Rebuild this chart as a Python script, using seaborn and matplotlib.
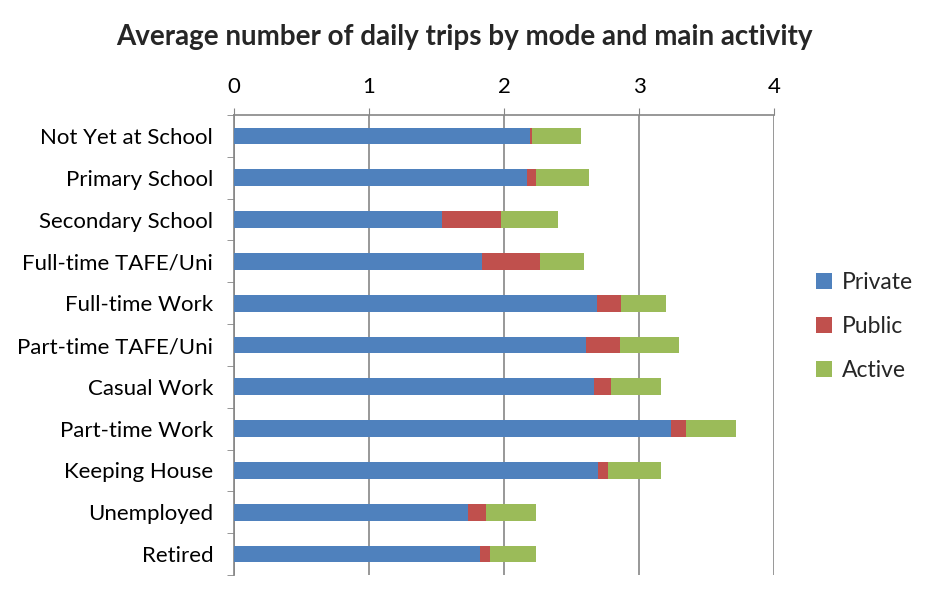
import numpy as np
import pandas as pd
import matplotlib.pyplot as plt
import seaborn as sns

# Average daily trips by main activity, split by mode
activities = ['Not Yet at School', 'Primary School', 'Secondary School', 'Full-time TAFE/Uni',
              'Full-time Work', 'Part-time TAFE/Uni', 'Casual Work', 'Part-time Work',
              'Keeping House', 'Unemployed', 'Retired']
private = [2.19, 2.17, 1.54, 1.84, 2.69, 2.61, 2.67, 3.24, 2.70, 1.73, 1.82]
public = [0.02, 0.07, 0.44, 0.43, 0.18, 0.25, 0.12, 0.11, 0.07, 0.14, 0.08]
active = [0.36, 0.39, 0.42, 0.32, 0.33, 0.44, 0.37, 0.37, 0.39, 0.37, 0.34]
x_ticks = [0, 1, 2, 3, 4]

colors = {'Private': '#4f81bd', 'Public': '#c0504d', 'Active': '#9bbb59'}

sns.set_style('white')
plt.rcParams['font.family'] = ['Lato', 'DejaVu Sans']

df = pd.DataFrame({'activity': activities, 'Private': private,
                   'Public': public, 'Active': active})
# cumulative ends for stacking
df['pub_end'] = df['Private'] + df['Public']
df['act_end'] = df['pub_end'] + df['Active']

fig = plt.figure(figsize=(9.28, 5.99), dpi=100)
ax = fig.add_axes([234 / 928, 1 - 575 / 599, 540 / 928, 460 / 599])

# draw longest first so the shorter segments sit on top
for col, name in [('act_end', 'Active'), ('pub_end', 'Public'), ('Private', 'Private')]:
    sns.barplot(data=df, y='activity', x=col, color=colors[name], width=0.4,
                orient='h', ax=ax, saturation=1, label=name, linewidth=0,
                zorder=3)

ax.set_xlim(0, 4)
ax.set_ylim(len(activities) - 0.5, -0.5)
ax.set_xticks(x_ticks)
ax.xaxis.tick_top()
ax.tick_params(axis='x', which='major', direction='out', length=5, color='#868686',
               labelsize=16, pad=8, top=True, bottom=False, labelcolor='black')
ax.tick_params(axis='y', which='major', length=0, labelsize=16, pad=15, labelcolor='black')
ax.set_yticks(np.arange(-0.5, len(activities)), minor=True)
ax.tick_params(axis='y', which='minor', direction='out', length=5, color='#868686', left=True)
ax.set_xlabel('')
ax.set_ylabel('')

ax.grid(axis='x', color='#868686', linewidth=1.2, zorder=0)
ax.set_axisbelow(True)
for side in ['bottom', 'right']:
    ax.spines[side].set_visible(False)
for side in ['top', 'left']:
    ax.spines[side].set_color('#868686')
    ax.spines[side].set_linewidth(1.2)

handles, labels = ax.get_legend_handles_labels()
order = [labels.index(n) for n in ['Private', 'Public', 'Active']]
ax.legend([handles[i] for i in order], [labels[i] for i in order],
          loc='center left', bbox_to_anchor=(1.06, 0.541), frameon=False,
          fontsize=16.5, handlelength=0.7, handleheight=0.7, labelspacing=1.0,
          handletextpad=0.45, borderaxespad=0)

fig.suptitle('Average number of daily trips by mode and main activity',
             x=0.5, y=1 - 37 / 599, va='center', fontsize=20, fontweight='bold')

fig.savefig('out.png', dpi=100)
